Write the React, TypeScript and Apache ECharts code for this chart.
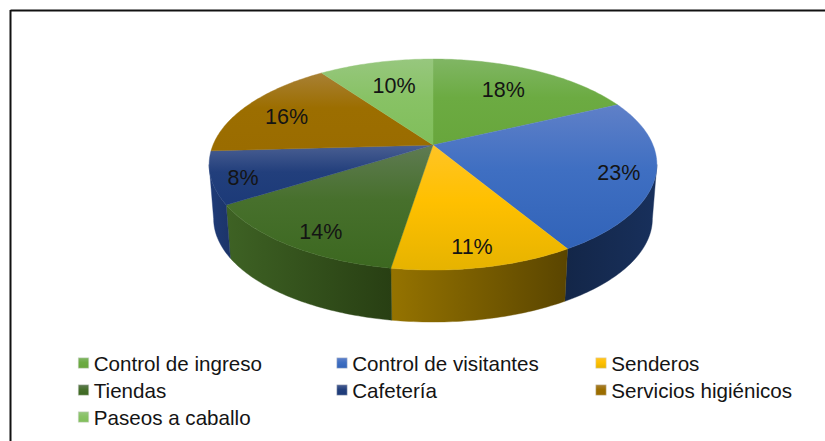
import React, { useEffect, useRef } from "react";
import * as echarts from "echarts";

const categories = ["Control de ingreso", "Control de visitantes", "Senderos", "Tiendas", "Cafetería", "Servicios higiénicos", "Paseos a caballo"];
const shares = [18, 23.4, 11.1, 13.6, 8, 16, 9.9];
const topColors = [
  ["#80b664", "#6cab42", "#68a63c"],
  ["#5f80c8", "#3f6fc2", "#3163b8"],
  ["#ffc425", "#ffc000", "#e6b300"],
  ["#5f7b53", "#47702c", "#3c6820"],
  ["#4a5f92", "#223f7c", "#1c3a78"],
  ["#a88035", "#9c6e00", "#9a6c00"],
  ["#97c77e", "#88c265", "#80be5a"],
];
const wallColors = [
  ["#4f7a2e", "#466d28"],
  ["#132648", "#18305c"],
  ["#957300", "#5a4500"],
  ["#3e6224", "#283f13"],
  ["#1e3b78", "#1c3468"],
  ["#6b4a00", "#6b4a00"],
  ["#5a8a3a", "#5a8a3a"],
];
const labelRadius = [0.69, 0.84, 0.82, 0.81, 0.86, 0.78, 0.68];
const labelNudge = [[0, -4], [-1, 2], [-3, 2], [4, 6], [1, 5], [-3, 4], [0, -3]];
const columns = [[0, 3, 6], [1, 4], [2, 5]];

const CX = 433, CY = 145, A = 220, B = 101.9, K = 0.185, DEPTH = 54.5, SHRINK = 0.98;
const total = shares.reduce((s, v) => s + v, 0);
const TAU = Math.PI * 2;

function project(theta: number, r = 1): [number, number] {
  const d = 1 + K * Math.cos(theta) * r;
  return [(A * r * Math.sin(theta)) / d, (B * r * Math.cos(theta)) / d];
}
const top = (t: number, r = 1): number[] => {
  const [x, y] = project(t, r);
  return [CX + x, CY - y];
};
const bottom = (t: number): number[] => {
  const [x, y] = project(t);
  return [CX + x * SHRINK, CY + DEPTH - y * SHRINK];
};
function samples(a: number, b: number): number[] {
  const n = Math.max(2, Math.ceil((b - a) * 60));
  const out: number[] = [];
  for (let i = 0; i <= n; i++) out.push(a + ((b - a) * i) / n);
  return out;
}
const grad = (c: string[], horizontal: boolean) =>
  new echarts.graphic.LinearGradient(
    0, 0, horizontal ? 1 : 0, horizontal ? 0 : 1,
    c.length === 3
      ? [
          { offset: 0, color: c[0] },
          { offset: 0.45, color: c[1] },
          { offset: 1, color: c[2] },
        ]
      : [
          { offset: 0, color: c[0] },
          { offset: 1, color: c[1] },
        ],
  );

const WALL_START = Math.acos(-K);
const WALL_END = TAU - WALL_START;

export default function App() {
  const ref = useRef<HTMLDivElement>(null);
  useEffect(() => {
    document.body.style.margin = "0";
    const chart = echarts.init(ref.current!, undefined, { renderer: "svg" });
    let acc = 0;
    const series = categories.map((name, i) => {
      const start = (acc / total) * TAU;
      acc += shares[i];
      const end = (acc / total) * TAU;
      return {
        type: "custom",
        name,
        coordinateSystem: "none",
        silent: true,
        itemStyle: { color: topColors[i][1] },
        data: [[shares[i]]],
        renderItem: (_p: any, api: any) => {
          const children: any[] = [];
          const wa = Math.max(start, WALL_START);
          const wb = Math.min(end, WALL_END);
          if (wb > wa) {
            const ts = samples(wa, wb);
            const pts = [...ts.map((t) => top(t)), ...ts.slice().reverse().map((t) => bottom(t))];
            const fill = grad(wallColors[i], true);
            children.push({
              type: "polygon",
              shape: { points: pts },
              style: { fill, stroke: fill, lineWidth: 0.4 },
            });
          }
          const pts = [[CX, CY], ...samples(start, end).map((t) => top(t))];
          const fill = grad(topColors[i], false);
          children.push({
            type: "polygon",
            shape: { points: pts },
            style: { fill, stroke: fill, lineWidth: 0.4 },
          });
          const mid = (start + end) / 2;
          const [lx, ly] = project(mid);
          const value = api.value(0);
          children.push({
            type: "text",
            x: CX + lx * labelRadius[i] + labelNudge[i][0],
            y: CY - ly * labelRadius[i] + labelNudge[i][1],
            style: {
              text: Math.round((value / total) * 100) + "%",
              fill: "#141414",
              font: '21.5px "Liberation Sans"',
              align: "center",
              verticalAlign: "middle",
            },
          });
          return { type: "group", children };
        },
      };
    });
    const lefts = [78, 336.5, 595.5];
    chart.setOption({
      animation: false,
      backgroundColor: "#ffffff",
      legend: columns.map((col, c) => ({
        show: true,
        orient: "vertical",
        left: lefts[c],
        top: 352,
        padding: 0,
        itemGap: 5,
        itemWidth: 10.5,
        itemHeight: 10.5,
        selectedMode: false,
        textStyle: { fontFamily: "Liberation Sans", fontSize: 20.6, color: "#141414", lineHeight: 22 },
        data: col.map((i) => ({
          name: categories[i],
          icon: "rect",
          itemStyle: { color: grad(topColors[i], false), borderColor: "#d8d8d8", borderWidth: 0.5 },
        })),
      })),
      graphic: [
        { type: "line", shape: { x1: 10.5, y1: 10.5, x2: 825, y2: 10.5 }, style: { stroke: "#111", lineWidth: 2 } },
        { type: "line", shape: { x1: 10.5, y1: 10, x2: 10.5, y2: 441 }, style: { stroke: "#111", lineWidth: 2 } },
      ],
      series,
    });
    return () => chart.dispose();
  }, []);
  return <div ref={ref} style={{ position: "absolute", left: 0, top: 0, width: 825, height: 441 }} />;
}
